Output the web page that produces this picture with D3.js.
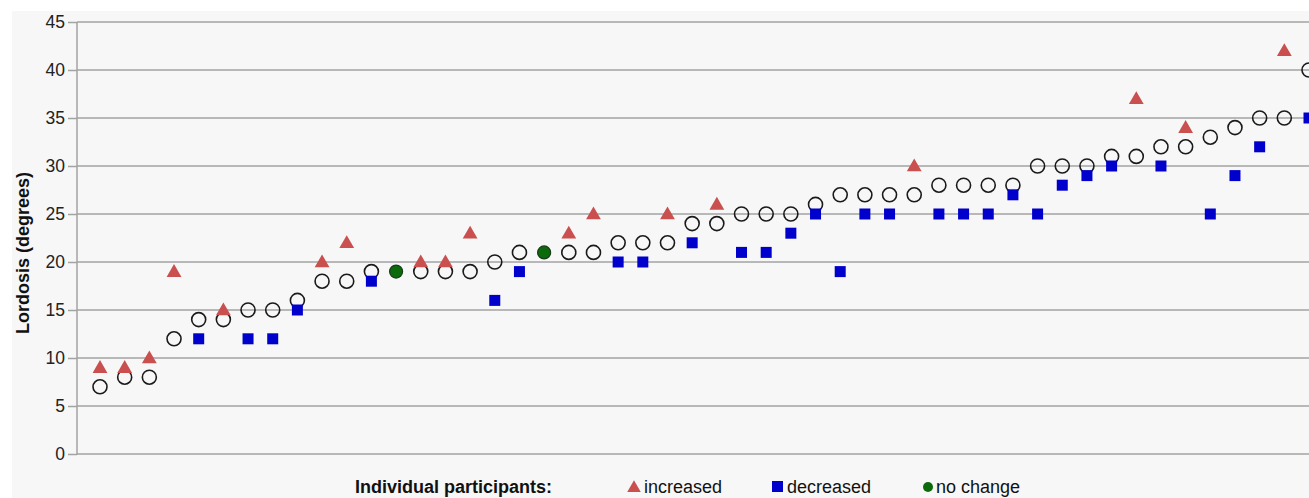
<!DOCTYPE html>
<html>
<head>
<meta charset="utf-8">
<script src="https://cdn.jsdelivr.net/npm/d3@7"></script>
<style>
  body { margin: 0; background: #fff; }
  svg { display: block; font-family: "Liberation Sans", Arial, sans-serif; }
</style>
</head>
<body>
<div id="chart"></div>
<script>
// baseline lordosis per participant (open circles), sorted
var baseline = [7, 8, 8, 12, 14, 14, 15, 15, 16, 18, 18, 19, 19, 19, 19, 19, 20, 21, 21, 21,
                21, 22, 22, 22, 24, 24, 25, 25, 25, 26, 27, 27, 27, 27, 28, 28, 28, 28, 30, 30,
                30, 31, 31, 32, 32, 33, 34, 35, 35, 40];
// follow-up value per participant
var followUp = [9, 9, 10, 19, 12, 15, 12, 12, 15, 20, 22, 18, 19, 20, 20, 23, 16, 19, 21, 23,
                25, 20, 20, 25, 22, 26, 21, 21, 23, 25, 19, 25, 25, 30, 25, 25, 25, 27, 25, 28,
                29, 30, 37, 30, 34, 25, 29, 32, 42, 35];
var yTicks = [0, 5, 10, 15, 20, 25, 30, 35, 40, 45];
var legendItems = ["increased", "decreased", "no change"];

var W = 1309, H = 498;
var m = {left: 77, top: 22, bottom: 44};

var svg = d3.select("#chart").append("svg")
    .attr("width", W)
    .attr("height", H);

// grey panel
svg.append("rect")
   .attr("x", 12).attr("y", 11)
   .attr("width", W - 12).attr("height", H - 11)
   .attr("fill", "#f7f7f7");

var x = d3.scaleLinear()
          .domain([0, baseline.length - 1])
          .range([100, 1309]);

var y = d3.scaleLinear()
          .domain([0, 45])
          .range([454, 22]);

// gridlines
svg.append("g")
   .selectAll("line")
   .data(yTicks)
   .join("line")
   .attr("x1", m.left).attr("x2", W)
   .attr("y1", d => y(d)).attr("y2", d => y(d))
   .attr("stroke", "#a3a3a3")
   .attr("stroke-width", 1.5);

// y axis
var yAxis = svg.append("g")
   .attr("transform", "translate(" + m.left + ",0)")
   .call(d3.axisLeft(y).tickValues(yTicks).tickSize(9).tickPadding(3));
yAxis.select(".domain").attr("stroke", "#a3a3a3").attr("stroke-width", 1.5)
     .attr("d", "M0," + y(45) + "V" + (y(0) + 1));
yAxis.selectAll(".tick line").attr("stroke", "#a3a3a3").attr("stroke-width", 1.5);
yAxis.selectAll(".tick text")
     .attr("fill", "#222")
     .style("font-size", "17.5px")
     .style("font-family", "'Liberation Sans', Arial, sans-serif");

// y axis label
svg.append("text")
   .attr("transform", "rotate(-90)")
   .attr("x", -253)
   .attr("y", 29)
   .attr("text-anchor", "middle")
   .style("font-size", "18px")
   .style("font-weight", "bold")
   .attr("fill", "#111")
   .text("Lordosis (degrees)");

var data = baseline.map((b, i) => ({i: i, base: b, post: followUp[i]}));

var tri = d3.symbol().type(d3.symbolTriangle).size(95);

// baseline circles
svg.append("g")
   .selectAll("circle")
   .data(data.filter(d => d.post != d.base))
   .join("circle")
   .attr("cx", d => x(d.i))
   .attr("cy", d => y(d.base))
   .attr("r", 7)
   .attr("fill", "none")
   .attr("stroke", "#1a1a1a")
   .attr("stroke-width", 1.6);

// decreased
svg.append("g")
   .selectAll("rect")
   .data(data.filter(d => d.post < d.base))
   .join("rect")
   .attr("x", d => x(d.i) - 5.5)
   .attr("y", d => y(d.post) - 5.5)
   .attr("width", 11)
   .attr("height", 11)
   .attr("fill", "#0000cc");

// increased
svg.append("g")
   .selectAll("path")
   .data(data.filter(d => d.post > d.base))
   .join("path")
   .attr("d", tri)
   .attr("transform", d => "translate(" + x(d.i) + "," + (y(d.post) + 1) + ")")
   .attr("fill", "#c9504f");

// no change
svg.append("g")
   .selectAll("circle")
   .data(data.filter(d => d.post == d.base))
   .join("circle")
   .attr("cx", d => x(d.i))
   .attr("cy", d => y(d.base))
   .attr("r", 6.5)
   .attr("fill", "#0b6b0b")
   .attr("stroke", "#1a3a1a")
   .attr("stroke-width", 1.2);

// legend
var legY = 493;
var lg = svg.append("g").style("font-size", "18px").attr("fill", "#111");
lg.append("text")
  .attr("x", 355).attr("y", legY)
  .style("font-weight", "bold")
  .text("Individual participants:");

var legX = [644, 787, 936];
lg.append("path")
  .attr("d", d3.symbol().type(d3.symbolTriangle).size(80))
  .attr("transform", "translate(" + (legX[0] - 10) + "," + (legY - 5) + ")")
  .attr("fill", "#c9504f");
lg.append("rect")
  .attr("x", legX[1] - 15).attr("y", legY - 12)
  .attr("width", 11).attr("height", 11)
  .attr("fill", "#0000cc");
lg.append("circle")
  .attr("cx", legX[2] - 8).attr("cy", legY - 6).attr("r", 5)
  .attr("fill", "#0b6b0b");

lg.selectAll("text.item")
  .data(legendItems)
  .join("text")
  .attr("class", "item")
  .attr("x", (d, i) => legX[i])
  .attr("y", legY)
  .text(d => d);
</script>
</body>
</html>
